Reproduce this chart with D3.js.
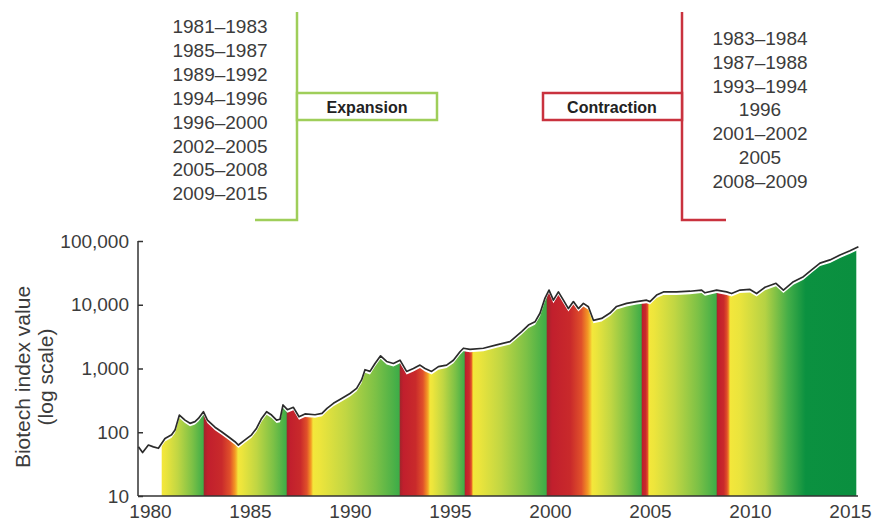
<!DOCTYPE html>
<html>
<head>
<meta charset="utf-8">
<script src="https://cdn.jsdelivr.net/npm/d3@7"></script>
<style>
  body { margin: 0; background: #fff; }
  svg { display: block; font-family: "Liberation Sans", Arial, sans-serif; }
</style>
</head>
<body>
<div id="chart"></div>
<script>
// Biotech index (log scale)
const years = [1979.42, 1979.63, 1979.92, 1980.17, 1980.42, 1980.75, 1981.08, 1981.25, 1981.47, 1981.75,
  1982.0, 1982.25, 1982.42, 1982.67, 1982.87, 1983.25, 1983.58, 1983.92, 1984.25, 1984.42,
  1984.75, 1985.08, 1985.33, 1985.58, 1985.83, 1986.08, 1986.33, 1986.5, 1986.65, 1986.87,
  1987.17, 1987.45, 1987.75, 1988.25, 1988.6, 1988.85, 1989.17, 1989.58, 1990.0, 1990.33,
  1990.58, 1990.75, 1991.0, 1991.25, 1991.53, 1991.83, 1992.17, 1992.5, 1992.83, 1993.17,
  1993.5, 1993.75, 1994.08, 1994.42, 1994.83, 1995.17, 1995.5, 1995.67, 1996.0, 1996.67,
  1997.33, 1998.0, 1998.58, 1998.92, 1999.25, 1999.5, 1999.75, 1999.95, 2000.17, 2000.42,
  2000.67, 2000.92, 2001.17, 2001.42, 2001.67, 2001.92, 2002.17, 2002.58, 2003.0, 2003.33,
  2003.83, 2004.33, 2004.83, 2005.0, 2005.33, 2005.67, 2006.33, 2007.0, 2007.58, 2007.75,
  2008.33, 2008.83, 2009.08, 2009.5, 2010.0, 2010.33, 2010.75, 2011.3, 2011.67, 2012.17,
  2012.67, 2013.08, 2013.5, 2014.0, 2014.5, 2015.0, 2015.42];
const indexValues = [59, 48, 63, 59, 56, 80, 91, 108, 186, 155,
  138, 147, 165, 210, 155, 120, 102, 85, 71, 63,
  76, 91, 116, 165, 210, 186, 155, 160, 268, 226,
  246, 175, 194, 188, 198, 237, 284, 338, 406, 488,
  662, 957, 900, 1200, 1580, 1290, 1200, 1350, 900, 1000,
  1130, 1000, 900, 1070, 1130, 1350, 1830, 2080, 2000, 2080,
  2350, 2640, 3800, 4800, 5400, 7350, 12700, 17000, 11800, 15900,
  11800, 8700, 11200, 8700, 10500, 9300, 5700, 6100, 7400, 9400,
  10500, 11200, 11800, 11200, 14200, 15900, 15900, 16300, 17000, 15400,
  17000, 15900, 15000, 17000, 17400, 15000, 18800, 21700, 17000, 23000,
  27600, 35300, 45000, 50500, 60500, 70500, 81500];

// Expansion / contraction phases under the curve
const phaseStarts = [1980.6, 1982.7, 1984.4, 1986.85, 1988.15, 1992.5, 1994.0, 1995.75, 1996.15, 1999.85, 2002.1, 2004.6, 2004.95, 2008.35, 2009.0];
const phaseEnds   = [1982.7, 1984.4, 1986.85, 1988.15, 1992.5, 1994.0, 1995.75, 1996.15, 1999.85, 2002.1, 2004.6, 2004.95, 2008.35, 2009.0, 2015.3];
const phaseTypes  = ["exp", "con", "exp", "con", "exp", "con", "exp", "con", "exp", "con", "exp", "con", "exp", "con", "expLast"];

// Legend labels
const expansionLabels = ["1981–1983", "1985–1987", "1989–1992", "1994–1996", "1996–2000", "2002–2005", "2005–2008", "2009–2015"];
const contractionLabels = ["1983–1984", "1987–1988", "1993–1994", "1996", "2001–2002", "2005", "2008–2009"];

const yTicks = [10, 100, 1000, 10000, 100000];
const xTicks = [1980, 1985, 1990, 1995, 2000, 2005, 2010, 2015];

const W = 877, H = 523;
const textColor = "#3c3c3c";

const svg = d3.select("#chart").append("svg")
  .attr("width", W)
  .attr("height", H);

const x = d3.scaleLinear().domain([1980, 2015]).range([150, 850]);
const y = d3.scaleLog().domain([10, 100000]).range([496, 241]);
const axisX0 = 138, axisX1 = 858;

const data = years.map((yr, i) => ({ year: yr, value: indexValues[i] }));

// gradients
const defs = svg.append("defs");
function addGradient(id, stops) {
  const g = defs.append("linearGradient").attr("id", id)
    .attr("x1", "0%").attr("x2", "100%").attr("y1", "0%").attr("y2", "0%");
  stops.forEach(s => g.append("stop").attr("offset", s[0]).attr("stop-color", s[1]));
}
addGradient("exp", [["0%", "#f4e73b"], ["8%", "#ede53c"], ["38%", "#c0d643"], ["72%", "#7cc146"], ["100%", "#3aab48"]]);
addGradient("expLast", [["0%", "#f4e73b"], ["8%", "#eae43d"], ["28%", "#b5d244"], ["46%", "#45ae48"], ["60%", "#0b9140"], ["100%", "#0a8f3f"]]);
addGradient("con", [["0%", "#9e262b"], ["12%", "#c11f2d"], ["52%", "#c92a2b"], ["76%", "#e0502a"], ["90%", "#f39624"], ["100%", "#f5e03a"]]);

// area clip (fill sits a little under the black line)
const area = d3.area()
  .x(d => x(d.year))
  .y0(y(10) + 10)
  .y1(d => y(d.value) + 3);

defs.append("clipPath").attr("id", "areaClip")
  .append("path")
  .datum(data)
  .attr("d", area);

const phases = phaseStarts.map((s, i) => ({ start: s, end: phaseEnds[i], type: phaseTypes[i] }));

svg.append("g")
  .attr("clip-path", "url(#areaClip)")
  .selectAll("rect")
  .data(phases)
  .enter().append("rect")
  .attr("x", d => x(d.start) - 0.3)
  .attr("width", d => x(d.end) - x(d.start) + 0.6)
  .attr("y", y(100000) - 20)
  .attr("height", y(10) - y(100000) + 20)
  .attr("fill", d => `url(#${d.type})`);

// index line
const line = d3.line()
  .x(d => x(d.year))
  .y(d => y(d.value));

svg.append("path")
  .datum(data)
  .attr("d", line)
  .attr("fill", "none")
  .attr("stroke", "#2b2b2b")
  .attr("stroke-width", 1.7)
  .attr("stroke-linejoin", "round");

// axes
const yAxis = svg.append("g")
  .attr("transform", `translate(${axisX0},0)`)
  .call(d3.axisLeft(y).tickValues(yTicks).tickFormat(d3.format(",")).tickSize(-5).tickPadding(9));
yAxis.select(".domain").remove();
yAxis.selectAll("line").attr("stroke", "#333").attr("stroke-width", 1.5);
yAxis.selectAll("text").attr("font-size", 19).attr("fill", textColor).attr("font-family", "Liberation Sans, Arial, sans-serif");

const xAxis = svg.append("g")
  .attr("transform", `translate(0,${y(10)})`)
  .call(d3.axisBottom(x).tickValues(xTicks).tickFormat(d3.format("d")).tickSize(0).tickPadding(9));
xAxis.select(".domain").remove();
xAxis.selectAll("text").attr("font-size", 19).attr("fill", textColor).attr("font-family", "Liberation Sans, Arial, sans-serif");

svg.append("line")
  .attr("x1", axisX0).attr("x2", axisX0)
  .attr("y1", y(100000)).attr("y2", y(10))
  .attr("stroke", "#333").attr("stroke-width", 1.5);
svg.append("line")
  .attr("x1", axisX0).attr("x2", axisX1)
  .attr("y1", y(10)).attr("y2", y(10))
  .attr("stroke", "#333").attr("stroke-width", 1.5);

// y title
const yTitle = svg.append("text")
  .attr("transform", "translate(30,377) rotate(-90)")
  .attr("text-anchor", "middle")
  .attr("font-size", 21)
  .attr("fill", textColor);
yTitle.append("tspan").attr("x", 0).attr("dy", 0).text("Biotech index value");
yTitle.append("tspan").attr("x", 0).attr("dy", 23).text("(log scale)");

// legend: expansion
const green = "#9fce5a", red = "#c9323e";
svg.append("path")
  .attr("d", "M297,12 V220 H255")
  .attr("fill", "none").attr("stroke", green).attr("stroke-width", 2.5);
svg.append("rect")
  .attr("x", 297).attr("y", 93).attr("width", 140).attr("height", 27)
  .attr("fill", "#fff").attr("stroke", green).attr("stroke-width", 2.5);
svg.append("text")
  .attr("x", 367).attr("y", 112.5).attr("text-anchor", "middle")
  .attr("font-size", 16).attr("font-weight", "bold").attr("fill", "#222")
  .text("Expansion");
svg.append("g").selectAll("text")
  .data(expansionLabels).enter().append("text")
  .attr("x", 220)
  .attr("y", (d, i) => 33 + i * 23.9)
  .attr("text-anchor", "middle")
  .attr("font-size", 19)
  .attr("fill", textColor)
  .text(d => d);

// legend: contraction
svg.append("path")
  .attr("d", "M682,12 V220 H726")
  .attr("fill", "none").attr("stroke", red).attr("stroke-width", 2.5);
svg.append("rect")
  .attr("x", 543).attr("y", 93).attr("width", 139).attr("height", 27)
  .attr("fill", "#fff").attr("stroke", red).attr("stroke-width", 2.5);
svg.append("text")
  .attr("x", 612).attr("y", 112.5).attr("text-anchor", "middle")
  .attr("font-size", 16).attr("font-weight", "bold").attr("fill", "#222")
  .text("Contraction");
svg.append("g").selectAll("text")
  .data(contractionLabels).enter().append("text")
  .attr("x", 760)
  .attr("y", (d, i) => 45 + i * 23.8)
  .attr("text-anchor", "middle")
  .attr("font-size", 19)
  .attr("fill", textColor)
  .text(d => d);
</script>
</body>
</html>
